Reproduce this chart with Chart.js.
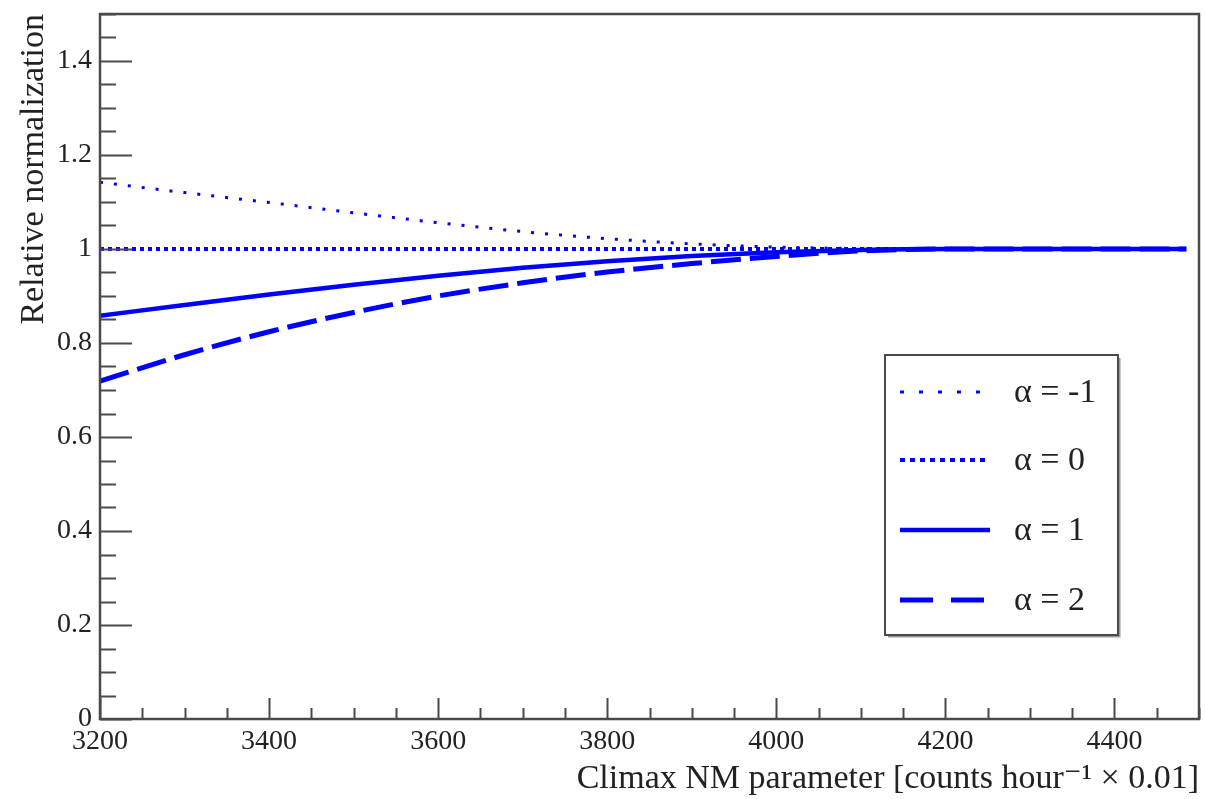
<!DOCTYPE html>
<html lang="en">
<head>
  <meta charset="UTF-8">
  <title>Relative normalization vs Climax NM parameter</title>
  <script src="https://cdn.jsdelivr.net/npm/chart.js"></script>
  <style>
    body {
      margin: 0;
      background: #ffffff;
    }
    #wrap {
      width: 1205px;
      height: 799px;
    }
  </style>
</head>
<body>
  <div id="wrap">
    <canvas id="chart" width="1205" height="799"></canvas>
  </div>

  <script>
    // values
    const xValues = [3200, 3300, 3400, 3500, 3600, 3700, 3800, 3900, 4000, 4100, 4200, 4300, 4400, 4485];
    const alphaMinus1 = [1.142, 1.120, 1.099, 1.077, 1.056, 1.037, 1.022, 1.011, 1.004, 1.001, 1.000, 1.000, 1.000, 1.000];
    const alpha0 = [1, 1, 1, 1, 1, 1, 1, 1, 1, 1, 1, 1, 1, 1];
    const alpha1 = [0.858, 0.881, 0.903, 0.924, 0.943, 0.960, 0.974, 0.985, 0.993, 0.998, 1.000, 1.000, 1.000, 1.000];
    const alpha2 = [0.719, 0.775, 0.824, 0.865, 0.900, 0.928, 0.951, 0.969, 0.984, 0.996, 1.000, 1.000, 1.000, 1.000];
    const seriesLabels = ['α = -1', 'α = 0', 'α = 1', 'α = 2'];

    const xTicks = [3200, 3400, 3600, 3800, 4000, 4200, 4400];
    const yTicks = [0, 0.2, 0.4, 0.6, 0.8, 1, 1.2, 1.4];
    const xMinorStep = 50;
    const yMinorStep = 0.05;

    const blue = '#0000ff';
    const axisColor = '#4a4a4a';
    const serif = "'Liberation Serif', 'DejaVu Serif', serif";

    const toPoints = ys => xValues.map((x, i) => ({ x: x, y: ys[i] }));

    // ROOT-like frame, inward ticks and the legend box
    const rootFrame = {
      id: 'rootFrame',
      afterDraw(chart) {
        const ctx = chart.ctx;
        const area = chart.chartArea;
        const xs = chart.scales.x;
        const ys = chart.scales.y;

        ctx.save();
        ctx.strokeStyle = axisColor;
        ctx.lineWidth = 2.5;
        ctx.strokeRect(area.left, area.top, area.right - area.left, area.bottom - area.top);

        ctx.lineWidth = 2;
        ctx.beginPath();
        for (let v = xs.min; v <= xs.max + 1e-6; v += xMinorStep) {
          const px = Math.round(xs.getPixelForValue(v)) + 0.5;
          const major = xTicks.includes(Math.round(v));
          ctx.moveTo(px, area.bottom);
          ctx.lineTo(px, area.bottom - (major ? 21 : 11));
        }
        for (let v = ys.min; v <= ys.max + 1e-6; v += yMinorStep) {
          const py = Math.round(ys.getPixelForValue(v)) + 0.5;
          const major = yTicks.some(t => Math.abs(t - v) < 1e-6);
          ctx.moveTo(area.left, py);
          ctx.lineTo(area.left + (major ? 32 : 16), py);
        }
        ctx.stroke();

        // legend
        const box = { x: 885, y: 355, w: 233, h: 280 };
        const rows = [392, 460, 530, 600];
        ctx.fillStyle = '#ffffff';
        ctx.fillRect(box.x, box.y, box.w, box.h);
        ctx.strokeStyle = '#9a9a9a';
        ctx.lineWidth = 2;
        ctx.beginPath();
        ctx.moveTo(box.x + 3, box.y + box.h + 1.5);
        ctx.lineTo(box.x + box.w + 1.5, box.y + box.h + 1.5);
        ctx.lineTo(box.x + box.w + 1.5, box.y + 3);
        ctx.stroke();
        ctx.strokeStyle = axisColor;
        ctx.strokeRect(box.x, box.y, box.w, box.h);

        chart.data.datasets.forEach((ds, i) => {
          ctx.save();
          ctx.strokeStyle = ds.borderColor;
          ctx.lineWidth = ds.borderWidth;
          ctx.setLineDash(ds.legendDash || ds.borderDash || []);
          ctx.beginPath();
          ctx.moveTo(900, rows[i]);
          ctx.lineTo(990, rows[i]);
          ctx.stroke();
          ctx.restore();
          ctx.fillStyle = '#222';
          ctx.font = '34px ' + serif;
          ctx.textBaseline = 'middle';
          ctx.textAlign = 'left';
          ctx.fillText(ds.label, 1014, rows[i] + 1);
        });
        ctx.restore();
      }
    };

    new Chart(document.getElementById('chart').getContext('2d'), {
      type: 'line',
      data: {
        datasets: [
          {
            label: seriesLabels[0],
            data: toPoints(alphaMinus1),
            borderColor: blue,
            borderWidth: 3,
            borderDash: [3, 11],
            legendDash: [4, 15]
          },
          {
            label: seriesLabels[1],
            data: toPoints(alpha0),
            borderColor: blue,
            borderWidth: 4,
            borderDash: [4, 4],
            legendDash: [5, 5]
          },
          {
            label: seriesLabels[2],
            data: toPoints(alpha1),
            borderColor: blue,
            borderWidth: 4.5
          },
          {
            label: seriesLabels[3],
            data: toPoints(alpha2),
            borderColor: blue,
            borderWidth: 5,
            borderDash: [30, 9],
            legendDash: [33, 18]
          }
        ]
      },
      options: {
        responsive: false,
        animation: false,
        cubicInterpolationMode: 'monotone',
        elements: {
          point: { radius: 0 }
        },
        layout: {
          padding: { top: 14, right: 6, left: 0, bottom: 0 }
        },
        plugins: {
          legend: { display: false },
          tooltip: { enabled: false }
        },
        scales: {
          x: {
            type: 'linear',
            min: 3200,
            max: 4500,
            afterFit: s => { s.height = 80; s.paddingLeft = 0; s.paddingRight = 0; },
            afterBuildTicks: s => { s.ticks = xTicks.map(v => ({ value: v })); },
            grid: { display: false, drawTicks: false },
            border: { display: false },
            ticks: {
              autoSkip: false,
              maxRotation: 0,
              padding: 6,
              color: '#222',
              font: { family: serif, size: 28 },
              callback: v => String(v)
            },
            title: {
              display: true,
              text: 'Climax NM parameter [counts hour⁻¹ × 0.01]',
              align: 'end',
              color: '#222',
              font: { family: serif, size: 34 },
              padding: { top: 0, bottom: 0 }
            }
          },
          y: {
            min: 0,
            max: 1.5,
            afterFit: s => { s.width = 100; s.paddingTop = 0; s.paddingBottom = 0; },
            afterBuildTicks: s => { s.ticks = yTicks.map(v => ({ value: v })); },
            grid: { display: false, drawTicks: false },
            border: { display: false },
            ticks: {
              autoSkip: false,
              padding: 8,
              color: '#222',
              font: { family: serif, size: 28 },
              callback: v => String(+v.toFixed(2))
            },
            title: {
              display: true,
              text: 'Relative normalization',
              align: 'end',
              color: '#222',
              font: { family: serif, size: 34 },
              padding: { top: 14, bottom: 0 }
            }
          }
        }
      },
      plugins: [rootFrame]
    });
  </script>
</body>
</html>
